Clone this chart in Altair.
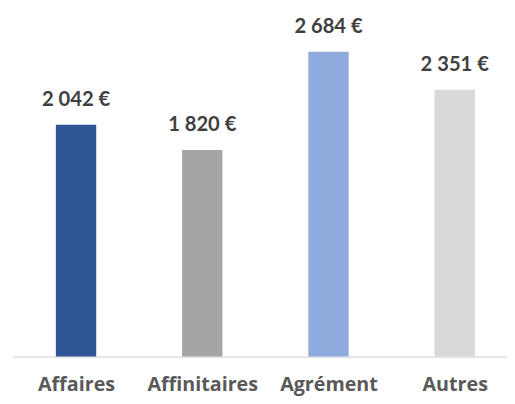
import altair as alt
import pandas as pd

categories = ["Affaires", "Affinitaires", "Agrément", "Autres"]
values = [2042, 1820, 2684, 2351]
labels = ["2 042 €", "1 820 €", "2 684 €", "2 351 €"]
colors = ["#2F5597", "#A5A5A5", "#8FAADC", "#D9D9D9"]

df = pd.DataFrame({"idx": list(range(len(categories))), "cat": categories,
                   "val": values, "lab": labels})

label_expr = "[" + ",".join("'" + c + "'" for c in categories) + "][datum.value]"

x = alt.X("idx:Q", title=None,
          scale=alt.Scale(domain=[-0.5, 3.414], nice=False, zero=False, padding=0),
          axis=alt.Axis(values=[0, 1, 2, 3], labelExpr=label_expr, grid=False,
                        ticks=False, domainColor="#D9D9D9", domainWidth=1.3,
                        labelOverlap=False, labelFlush=False,
                        labelFont="Open Sans", labelFontSize=20, labelFontWeight="bold",
                        labelColor="#595959", labelPadding=35, labelBaseline="alphabetic"))
y = alt.Y("val:Q", scale=alt.Scale(domain=[0, 3000], nice=False), axis=None)

bars = alt.Chart(df).mark_bar(size=41, orient="vertical").encode(
    x=x, y=y,
    color=alt.Color("cat:N", sort=categories,
                    scale=alt.Scale(domain=categories, range=colors), legend=None))

text = alt.Chart(df).mark_text(font="Lato", fontSize=20.5, fontWeight="bold", color="#404040",
                               baseline="alphabetic", dy=-19).encode(
    x=x, y=y, text="lab:N")

chart = (bars + text).properties(
    width=502, height=346,
    autosize=alt.AutoSizeParams(type="none"),
    padding={"left": 5, "top": 5, "right": 0, "bottom": 37},
).configure_view(stroke=None)

chart.save("out.html", embed_options={"renderer": "svg", "actions": False})
